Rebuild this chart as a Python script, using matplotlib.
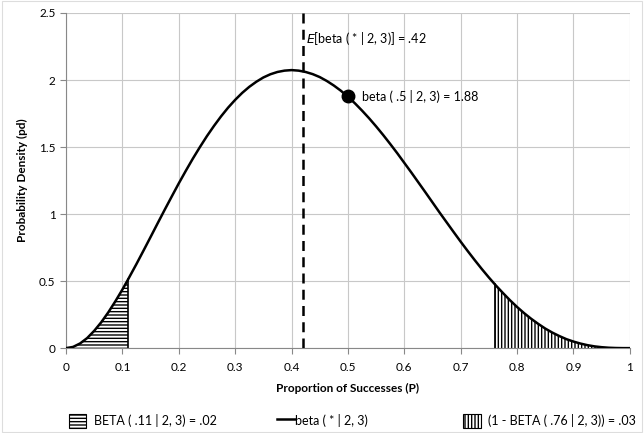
import numpy as np
import matplotlib.pyplot as plt
from matplotlib.patches import Patch
from matplotlib.lines import Line2D

plt.rcParams['font.family'] = ['Lato', 'DejaVu Sans']
plt.rcParams['hatch.linewidth'] = 1.0

# density curve
p_vals = [0, .0125, .025, .0375, .05, .0625, .075, .0875, .1, .11,
          .125, .1375, .15, .1625, .175, .1875, .2, .2125, .225, .2375,
          .25, .2625, .275, .2875, .3, .3125, .325, .3375, .35, .3625,
          .375, .3875, .4, .4125, .425, .4375, .45, .4625, .475, .4875,
          .5, .5125, .525, .5375, .55, .5625, .575, .5875, .6, .6125,
          .625, .6375, .65, .6625, .675, .6875, .7, .7125, .725, .7375,
          .75, .76, .7625, .775, .7875, .8, .8125, .825, .8375, .85,
          .8625, .875, .8875, .9, .9125, .925, .9375, .95, .9625, .975,
          .9875, 1]
pd_vals = [0, .009, .035, .075, .129, .193, .267, .349, .437, .512,
           .628, .728, .829, .931, 1.032, 1.131, 1.229, 1.323, 1.414, 1.500,
           1.582, 1.658, 1.729, 1.794, 1.852, 1.904, 1.949, 1.987, 2.019, 2.043,
           2.060, 2.070, 2.074, 2.070, 2.060, 2.044, 2.022, 1.993, 1.959, 1.920,
           1.875, 1.826, 1.772, 1.715, 1.654, 1.590, 1.523, 1.454, 1.382, 1.310,
           1.236, 1.162, 1.087, 1.012, .939, .866, .794, .724, .656, .590,
           .527, .479, .467, .411, .357, .307, .261, .219, .181, .146,
           .116, .090, .067, .049, .034, .022, .013, .007, .003, .001,
           .0001, 0]

mean_p = 0.42
point_p, point_pd = 0.5, 1.88
left_cut = 0.11
right_cut = 0.76

x = np.array(p_vals)
y = np.array(pd_vals)
fs = 8.5
fs_txt = 9

fig = plt.figure(figsize=(6.44, 4.33), dpi=100)
ax = fig.add_axes([0.1025, 0.196, 0.8755, 0.774])

# hatched tails
m = x <= left_cut
ax.fill_between(x[m], 0, y[m], facecolor='white', edgecolor='black', hatch='-----', linewidth=0)
ax.plot([left_cut, left_cut], [0, y[x == left_cut][0]], color='black', lw=1.2)
m = x >= right_cut
ax.fill_between(x[m], 0, y[m], facecolor='white', edgecolor='black', hatch='|||||', linewidth=0)
ax.plot([right_cut, right_cut], [0, y[x == right_cut][0]], color='black', lw=1.2)

ax.plot(x, y, color='black', lw=1.8, zorder=3)
ax.axvline(mean_p, color='black', lw=1.8, ls=(0, (4, 2.5)), zorder=3)
ax.plot([point_p], [point_pd], 'o', color='black', ms=9, zorder=4)

ax.text(point_p + 0.025, point_pd, 'beta ( .5 | 2, 3) = 1.88', fontsize=fs_txt, va='center')
ax.text(mean_p + 0.006, 2.31, '$\\it{E}$[beta ( * | 2, 3)] = .42', fontsize=fs_txt, va='center')

ax.set_xlim(0, 1)
ax.set_ylim(0, 2.5)
ax.set_xticks(np.arange(0, 1.01, 0.1))
ax.set_xticklabels(['0', '0.1', '0.2', '0.3', '0.4', '0.5', '0.6', '0.7', '0.8', '0.9', '1'])
ax.set_yticks(np.arange(0, 2.51, 0.5))
ax.set_yticklabels(['0', '0.5', '1', '1.5', '2', '2.5'])
ax.tick_params(labelsize=fs, length=4, color='#888888', direction='out')
ax.tick_params(axis='x', pad=6)
ax.grid(True, color='#c8c8c8', lw=0.8)
ax.set_axisbelow(True)
for s in ['top', 'right']:
    ax.spines[s].set_visible(False)
for s in ['left', 'bottom']:
    ax.spines[s].set_color('#888888')

ax.set_xlabel('Proportion of Successes (P)', fontsize=fs, fontweight='bold', labelpad=7)
ax.set_ylabel('Probability Density (pd)', fontsize=fs, fontweight='bold', labelpad=8)

entries = [(Patch(facecolor='white', edgecolor='black', hatch='-----', linewidth=0.8),
            'BETA ( .11 | 2, 3) = .02', 0.089, 0.6),
           (Line2D([0], [0], color='black', lw=1.8), 'beta ( * | 2, 3)', 0.413, 0.0),
           (Patch(facecolor='white', edgecolor='black', hatch='|||||', linewidth=0.8),
            '(1 - BETA ( .76 | 2, 3)) = .03', 0.702, 0.6)]
for h, lab, xpos, pad in entries:
    fig.legend([h], [lab], loc='center left', bbox_to_anchor=(xpos, 0.028),
               frameon=False, fontsize=fs_txt, handlelength=1.4, handleheight=1.4,
               handletextpad=pad)

fig.patches.append(plt.Rectangle((0.003, 0.003), 0.994, 0.994, transform=fig.transFigure,
                                 fill=False, edgecolor='#dddddd', lw=0.8))

fig.savefig('out.png', dpi=100)
